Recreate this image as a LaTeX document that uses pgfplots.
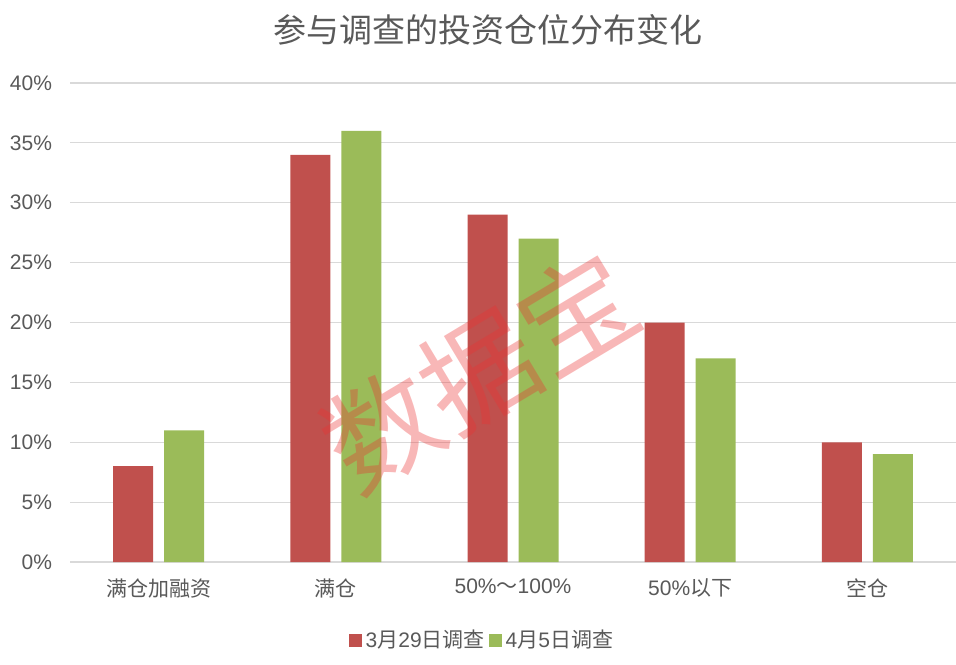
\documentclass[border=0pt]{standalone}
\usepackage{fontspec}
\setmainfont{Liberation Sans}
\newfontfamily\cjk{Noto Sans CJK SC}
\usepackage{pgfplots}
\pgfplotsset{compat=1.18}
\definecolor{sred}{HTML}{C0504D}
\definecolor{sgreen}{HTML}{9BBB59}
\definecolor{txt}{HTML}{595959}
\definecolor{gridc}{HTML}{D9D9D9}
\definecolor{wm}{RGB}{235,50,50}
\begin{document}
\begin{tikzpicture}
\begin{axis}[
  at={(0,0)}, anchor=south west,
  scale only axis, width=443pt, height=239.5pt,
  ybar=5.5pt, bar width=20pt,
  xmin=-0.5, xmax=4.5, ymin=0, ymax=40,
  xtick={0,1,2,3,4},
  xticklabels={{\cjk 满仓加融资},{\cjk 满仓},{50\%{\cjk ～}100\%},{50\%{\cjk 以下}},{\cjk 空仓}},
  ytick={0,5,...,40},
  yticklabel={\pgfmathprintnumber{\tick}\%},
  /pgf/number format/assume math mode=true,
  ymajorgrids, grid style={gridc, line width=0.6pt},
  axis line style={draw=none},
  major tick length=0pt,
  tick label style={font=\fontsize{10.5}{12}\selectfont, text=txt},
  yticklabel style={xshift=-5.5pt},
  xticklabel style={yshift=-5pt},
  legend style={at={(0.466,-0.163)}, anchor=center, draw=none, fill=none,
    legend columns=2, font=\fontsize{10.5}{12}\selectfont, text=txt,
    /tikz/every even column/.append style={column sep=0pt},
    inner sep=0pt},
  legend image code/.code={\fill[#1] (0pt,-3.25pt) rectangle (6.5pt,3.25pt);},
]
\addplot[fill=sred, draw=none] coordinates {(0,8) (1,34) (2,29) (3,20) (4,10)};
\addplot[fill=sgreen, draw=none] coordinates {(0,11) (1,36) (2,27) (3,17) (4,9)};
\legend{{3{\cjk 月}29{\cjk 日调查}},{4{\cjk 月}5{\cjk 日调查}}}
\node[rotate=31, font=\cjk\fontsize{57}{57}\selectfont, text=wm, text opacity=0.35] at (axis cs:1.81,15.95) {数据宝};
\end{axis}
\node[font=\cjk\fontsize{16.5}{18}\selectfont, text=txt] at (209pt,266pt) {参与调查的投资仓位分布变化};
\pgfresetboundingbox
\path[use as bounding box] (-35pt,-51pt) rectangle (443pt,281pt);
\end{tikzpicture}
\end{document}
